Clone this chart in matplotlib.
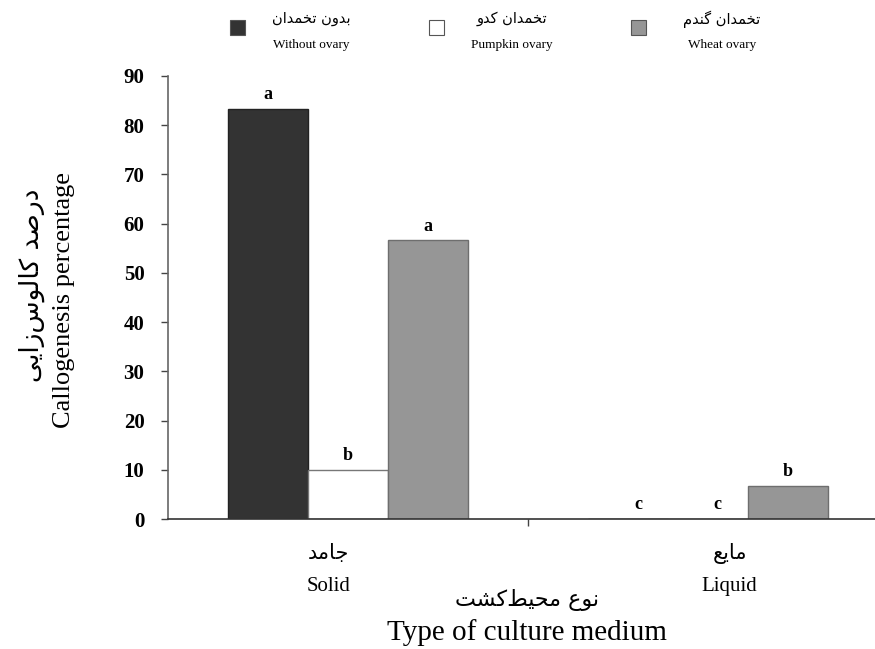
import numpy as np
import matplotlib.pyplot as plt
from matplotlib.patches import Rectangle

# Dane
media_fa = ['جامد', 'مایع']
media_en = ['Solid', 'Liquid']
series_fa = ['بدون تخمدان', 'تخمدان کدو', 'تخمدان گندم']
series_en = ['Without ovary', 'Pumpkin ovary', 'Wheat ovary']
without_ovary = [83.3, 0.0]
pumpkin_ovary = [10.0, 0.0]
wheat_ovary = [56.6, 6.7]
letters_without = ['a', 'c']
letters_pumpkin = ['b', 'c']
letters_wheat = ['a', 'b']
ylabel_fa = 'درصد کالوس‌زایی'
ylabel_en = 'Callogenesis percentage'
xlabel_fa = 'نوع محیط‌کشت'
xlabel_en = 'Type of culture medium'

# ----------------------------------------------------------------------------------
# Proste kształtowanie tekstu perskiego (formy prezentacyjne + odwrócenie)
# ----------------------------------------------------------------------------------
FORMS = {
    'ا': ('\uFE8D', '\uFE8E', None, None),
    'ب': ('\uFE8F', '\uFE90', '\uFE91', '\uFE92'),
    'ت': ('\uFE95', '\uFE96', '\uFE97', '\uFE98'),
    'ج': ('\uFE9D', '\uFE9E', '\uFE9F', '\uFEA0'),
    'ح': ('\uFEA1', '\uFEA2', '\uFEA3', '\uFEA4'),
    'خ': ('\uFEA5', '\uFEA6', '\uFEA7', '\uFEA8'),
    'د': ('\uFEA9', '\uFEAA', None, None),
    'ر': ('\uFEAD', '\uFEAE', None, None),
    'ز': ('\uFEAF', '\uFEB0', None, None),
    'س': ('\uFEB1', '\uFEB2', '\uFEB3', '\uFEB4'),
    'ش': ('\uFEB5', '\uFEB6', '\uFEB7', '\uFEB8'),
    'ص': ('\uFEB9', '\uFEBA', '\uFEBB', '\uFEBC'),
    'ط': ('\uFEC1', '\uFEC2', '\uFEC3', '\uFEC4'),
    'ع': ('\uFEC9', '\uFECA', '\uFECB', '\uFECC'),
    'ل': ('\uFEDD', '\uFEDE', '\uFEDF', '\uFEE0'),
    'م': ('\uFEE1', '\uFEE2', '\uFEE3', '\uFEE4'),
    'ن': ('\uFEE5', '\uFEE6', '\uFEE7', '\uFEE8'),
    'و': ('\uFEED', '\uFEEE', None, None),
    'ی': ('\uFBFC', '\uFBFD', '\uFBFE', '\uFBFF'),
    'ک': ('\uFB8E', '\uFB8F', '\uFB90', '\uFB91'),
    'گ': ('\uFB92', '\uFB93', '\uFB94', '\uFB95'),
}


def fa(s):
    out = []
    for i, c in enumerate(s):
        if c == '\u200c':
            continue
        if c not in FORMS:
            out.append(c)
            continue
        prev = s[i - 1] if i > 0 else None
        nxt = s[i + 1] if i + 1 < len(s) else None
        joins_prev = prev in FORMS and FORMS[prev][2] is not None
        joins_next = nxt in FORMS and FORMS[c][2] is not None
        iso, fin, ini, med = FORMS[c]
        if joins_prev and joins_next:
            out.append(med)
        elif joins_prev:
            out.append(fin)
        elif joins_next:
            out.append(ini)
        else:
            out.append(iso)
    return ''.join(reversed(out))


FA_FONT = ['DejaVu Sans']
EN_FONT = ['Liberation Serif', 'DejaVu Serif']

colors = ['#333333', '#ffffff', '#969696']
edges = ['#222222', '#777777', '#6e6e6e']

# ----------------------------------------------------------------------------------
# Wykres
# ----------------------------------------------------------------------------------
fig = plt.figure(figsize=(8.75, 6.49), dpi=100)
ax = fig.add_axes([0.192, 0.2003, 0.823, 0.6826])

x = np.arange(len(media_en))
w = 0.222
values = [without_ovary, pumpkin_ovary, wheat_ovary]
letters = [letters_without, letters_pumpkin, letters_wheat]

for k in range(3):
    pos = x + (k - 1) * w
    bars = ax.bar(pos, values[k], width=w, color=colors[k], edgecolor=edges[k],
                  linewidth=1.0, zorder=2)
    for bar, lab in zip(bars, letters[k]):
        h = bar.get_height()
        dx = 7 if h == 0 else 0
        ax.annotate(lab, (bar.get_x() + bar.get_width() / 2, h),
                    xytext=(dx, 7), textcoords='offset points',
                    ha='center', va='baseline', fontsize=13,
                    fontweight='bold', family=EN_FONT)

ax.set_xlim(-0.5, 1.5)
ax.set_ylim(0, 90)
ax.set_yticks(range(0, 91, 10))
ax.set_yticklabels([str(v) for v in range(0, 91, 10)], fontsize=15,
                   fontweight='bold', family=EN_FONT)
ax.set_xticks([0.5])
ax.set_xticklabels([''])
ax.tick_params(axis='y', length=5, width=1, color='#444444', pad=12)
ax.tick_params(axis='x', length=5, width=1, color='#444444')

for s in ['top', 'right']:
    ax.spines[s].set_visible(False)
ax.spines['left'].set_color('#666666')
ax.spines['bottom'].set_color('#333333')
ax.spines['left'].set_linewidth(1.2)
ax.spines['bottom'].set_linewidth(1.2)

# etykiety kategorii
shift = [-0.055, 0.06]
for i in range(len(media_en)):
    ax.text(x[i] + shift[i], -0.077, fa(media_fa[i]), transform=ax.get_xaxis_transform(),
            ha='center', va='center', fontsize=15, family=FA_FONT)
    ax.text(x[i] + shift[i], -0.153, media_en[i], transform=ax.get_xaxis_transform(),
            ha='center', va='center', fontsize=15, family=EN_FONT)

# opisy osi
fig.text(527 / 875, 1 - 600 / 649, fa(xlabel_fa), ha='center', va='center',
         fontsize=16, family=FA_FONT)
fig.text(527 / 875, 1 - 633 / 649, xlabel_en, ha='center', va='center',
         fontsize=21, family=EN_FONT)
fig.text(32 / 875, 1 - 285 / 649, fa(ylabel_fa), ha='center', va='center',
         rotation=90, fontsize=19, family=FA_FONT)
fig.text(64 / 875, 1 - 300 / 649, ylabel_en, ha='center', va='center',
         rotation=90, fontsize=19, family=EN_FONT)

# legenda
sq_x = [230, 429, 631]
txt_x = [311, 512, 722]
for k in range(3):
    fig.add_artist(Rectangle((sq_x[k] / 875, 1 - 35 / 649), 15 / 875, 15 / 649,
                             transform=fig.transFigure, facecolor=colors[k],
                             edgecolor='#555555', linewidth=0.8))
    fig.text(txt_x[k] / 875, 1 - 19 / 649, fa(series_fa[k]), ha='center', va='center',
             fontsize=10.5, family=FA_FONT)
    fig.text(txt_x[k] / 875, 1 - 45 / 649, series_en[k], ha='center', va='center',
             fontsize=9.5, family=EN_FONT)

plt.savefig('out.png', dpi=100)
plt.close()
